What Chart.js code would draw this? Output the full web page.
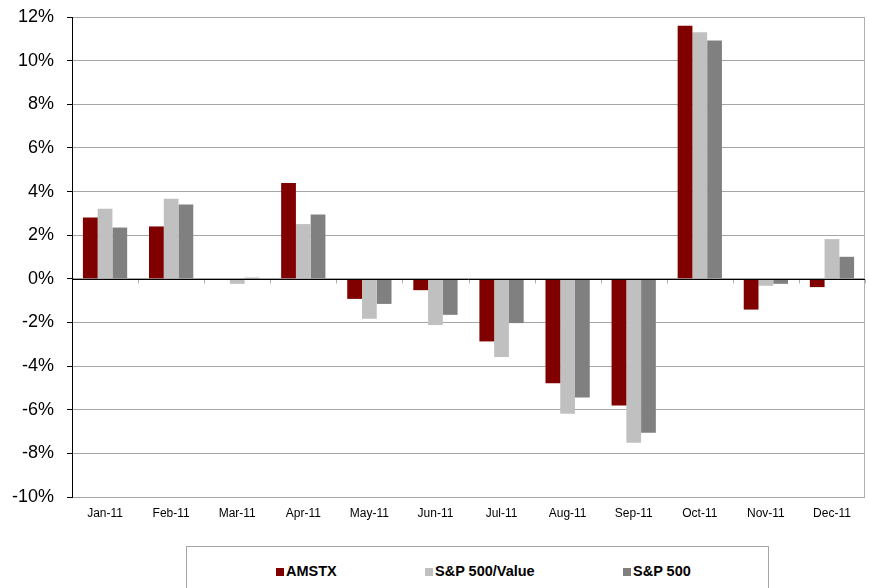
<!DOCTYPE html>
<html>
<head>
<meta charset="utf-8">
<script src="https://cdn.jsdelivr.net/npm/chart.js@4.4.1/dist/chart.umd.min.js"></script>
<style>
    body { margin: 0; background: #fff; font-family: "Liberation Sans", Arial, sans-serif; }
    #wrap { position: relative; width: 869px; height: 588px; }
    #legendBox {
        position: absolute; left: 186px; top: 546px; width: 581px; height: 60px;
        border: 1px solid #a6a6a6; background: #fff;
    }
    .item { position: absolute; top: 16px; font-weight: bold; font-size: 14.5px; color: #000; white-space: nowrap; }
    .item span { display: inline-block; width: 8px; height: 8px; margin-right: 2px; }
</style>
</head>
<body>
<div id="wrap">
    <canvas id="returnsChart" width="869" height="588"></canvas>
    <div id="legendBox"></div>
</div>
<script>
const months = ["Jan-11", "Feb-11", "Mar-11", "Apr-11", "May-11", "Jun-11", "Jul-11", "Aug-11", "Sep-11", "Oct-11", "Nov-11", "Dec-11"];
const amstx = [2.81, 2.40, 0.0, 4.39, -0.92, -0.52, -2.87, -4.79, -5.81, 11.60, -1.41, -0.38];
const spValue = [3.21, 3.67, -0.23, 2.51, -1.83, -2.12, -3.58, -6.19, -7.51, 11.30, -0.32, 1.82];
const sp500 = [2.35, 3.41, 0.05, 2.95, -1.15, -1.65, -2.03, -5.44, -7.06, 10.92, -0.23, 1.01];

// borde derecho y marcas de categoría sobre la línea del cero
const framePlugin = {
    id: 'frame',
    afterDraw(chart) {
        const { ctx, chartArea } = chart;
        const x = chart.scales.x, y = chart.scales.y;
        const zeroY = Math.round(y.getPixelForValue(0)) + 0.5;
        ctx.save();
        ctx.strokeStyle = '#b0b0b0';
        ctx.lineWidth = 1;
        ctx.beginPath();
        ctx.moveTo(Math.round(chartArea.right) - 0.5, chartArea.top);
        ctx.lineTo(Math.round(chartArea.right) - 0.5, chartArea.bottom);
        const step = (x.right - x.left) / months.length;
        for (let i = 1; i <= months.length; i++) {
            const px = Math.round(x.left + i * step) + 0.5;
            ctx.moveTo(px, zeroY);
            ctx.lineTo(px, zeroY + 4);
        }
        ctx.stroke();
        ctx.strokeStyle = '#000';
        ctx.beginPath();
        ctx.moveTo(chartArea.left, zeroY);
        ctx.lineTo(chartArea.right, zeroY);
        ctx.stroke();
        ctx.restore();
    }
};

const ctx = document.getElementById('returnsChart').getContext('2d');
const returnsChart = new Chart(ctx, {
    type: 'bar',
    data: {
        labels: months,
        datasets: [
            { label: 'AMSTX', data: amstx, backgroundColor: '#800000' },
            { label: 'S&P 500/Value', data: spValue, backgroundColor: '#c0c0c0' },
            { label: 'S&P 500', data: sp500, backgroundColor: '#808080' }
        ]
    },
    options: {
        responsive: false,
        animation: false,
        categoryPercentage: 0.67,
        barPercentage: 1.0,
        layout: { padding: { top: 17, right: 4, bottom: 61, left: 0 } },
        plugins: {
            legend: { display: false },
            tooltip: { enabled: false }
        },
        scales: {
            x: {
                grid: { display: false, drawTicks: false },
                border: { display: false },
                ticks: {
                    color: '#000',
                    padding: 9,
                    maxRotation: 0,
                    font: { family: '"Liberation Sans", Arial', size: 12 }
                },
                afterFit(scale) { scale.height = 30; }
            },
            y: {
                min: -10,
                max: 12,
                grid: {
                    color: '#a6a6a6',
                    tickLength: 5,
                    tickColor: '#000'
                },
                border: { display: true, color: '#000', width: 1 },
                ticks: {
                    stepSize: 2,
                    color: '#000',
                    padding: 13,
                    font: { family: '"Liberation Sans", Arial', size: 18 },
                    callback: v => v + '%'
                },
                afterFit(scale) {
                    scale.width = 72;
                    scale.paddingTop = 0;
                    scale.paddingBottom = 0;
                }
            }
        }
    },
    plugins: [framePlugin]
});

// leyenda en HTML, a partir de los datasets
const legendBox = document.getElementById('legendBox');
const offsets = [89, 238, 436];
returnsChart.data.datasets.forEach((ds, i) => {
    const el = document.createElement('div');
    el.className = 'item';
    el.style.left = offsets[i] + 'px';
    el.innerHTML = `<span style="background:${ds.backgroundColor}"></span>` + ds.label.replace('&', '&amp;');
    legendBox.appendChild(el);
});
</script>
</body>
</html>
